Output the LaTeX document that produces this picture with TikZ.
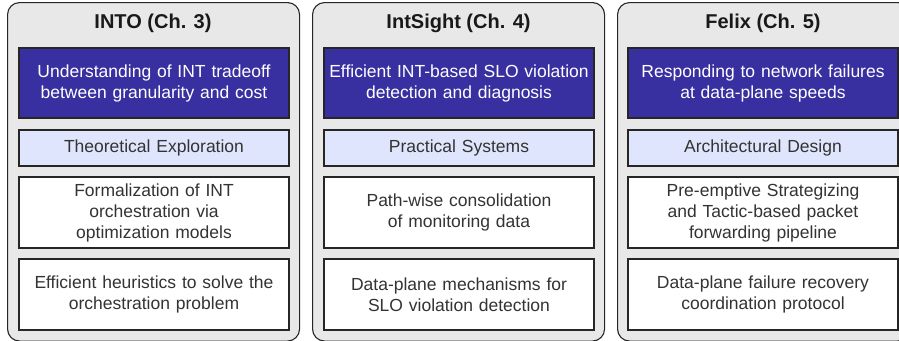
\documentclass[tikz,border=0pt]{standalone}
\usepackage{fontspec}
\setmainfont{Liberation Sans}
\definecolor{panelgray}{HTML}{E8E8E8}
\definecolor{deepblue}{HTML}{3830A0}
\definecolor{paleblue}{HTML}{DFE5FC}
\definecolor{txtgray}{HTML}{333333}
\begin{document}
\begin{tikzpicture}[x=1pt,y=-1pt,
  panel/.style={draw=black!85, fill=panelgray, rounded corners=12pt, line width=1.1pt,
    minimum width=292pt, minimum height=338.5pt, anchor=north west, inner sep=0pt},
  ptitle/.style={font=\fontsize{20pt}{24pt}\selectfont\bfseries, text=black!90},
  basebox/.style={draw=black!85, line width=1.2pt, minimum width=270pt, text width=262pt,
    align=center, inner sep=0pt, font=\fontsize{17.5pt}{21pt}\selectfont},
  darkbox/.style={basebox, fill=deepblue, text=white, minimum height=70pt},
  lightbox/.style={basebox, fill=paleblue, text=txtgray, minimum height=36pt},
  whitebox/.style={basebox, fill=white, text=txtgray, minimum height=71pt}]
\useasboundingbox (0,0) rectangle (899,340);
\clip (0,0) rectangle (899,340);
% panels
\node[panel] (p1) at (7,2) {};
\node[panel] (p2) at (312,2) {};
\node[panel] (p3) at (617,2) {};
% titles
\node[ptitle] (t1) at (153,23) {INTO (Ch. 3)};
\node[ptitle] (t2) at (458.5,23) {IntSight (Ch. 4)};
\node[ptitle] (t3) at (763,23) {Felix (Ch. 5)};
% column 1
\node[darkbox] (d1) at (154,83) {Understanding of INT tradeoff\\between granularity and cost};
\node[lightbox] (l1) at (154,148) {Theoretical Exploration};
\node[whitebox] (a1) at (154,212.5) {Formalization of INT\\orchestration via\\optimization models};
\node[whitebox] (b1) at (154,294.5) {Efficient heuristics to solve the\\orchestration problem};
% column 2
\node[darkbox] (d2) at (459,83) {Efficient INT-based SLO violation\\detection and diagnosis};
\node[lightbox] (l2) at (459,148) {Practical Systems};
\node[whitebox] (a2) at (459,212.5) {Path-wise consolidation\\of monitoring data};
\node[whitebox] (b2) at (459,294.5) {Data-plane mechanisms for\\SLO violation detection};
% column 3
\node[darkbox] (d3) at (763,83) {Responding to network failures\\at data-plane speeds};
\node[lightbox] (l3) at (763,148) {Architectural Design};
\node[whitebox] (a3) at (763,212.5) {Pre-emptive Strategizing\\and Tactic-based packet\\forwarding pipeline};
\node[whitebox] (b3) at (763,294.5) {Data-plane failure recovery\\coordination protocol};
\end{tikzpicture}
\end{document}
